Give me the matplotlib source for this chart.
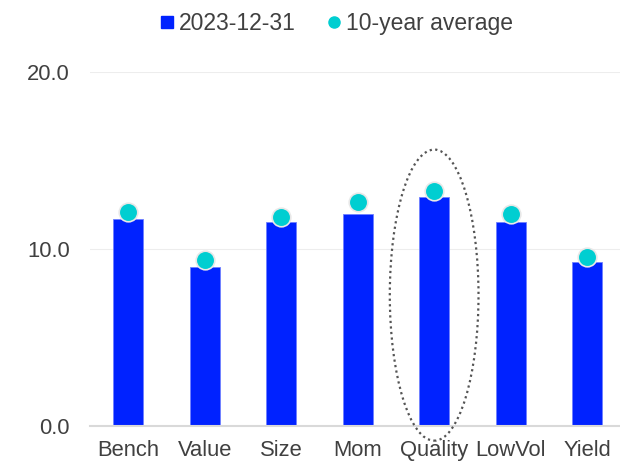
import matplotlib
matplotlib.use("Agg")
import matplotlib.pyplot as plt
from matplotlib.patches import Ellipse
from matplotlib.lines import Line2D

categories = ["Bench", "Value", "Size", "Mom", "Quality", "LowVol", "Yield"]
current = [11.69, 8.97, 11.56, 11.97, 12.95, 11.54, 9.30]
avg10 = [12.09, 9.36, 11.82, 12.69, 13.29, 11.97, 9.55]
yticks = [0, 10, 20]
ytick_labels = ["0.0", "10.0", "20.0"]

plt.rcParams['font.family'] = ['Liberation Sans', 'DejaVu Sans']
txt = "#404040"
bar_c = "#0022FF"
dot_c = "#00CED1"
fs = 15.8

fig = plt.figure(figsize=(6.2, 4.66), dpi=100)
ax = fig.add_axes([90/620, 1-426/466, (620-90)/620, (426-72.3)/466])

x = list(range(len(categories)))
ax.bar(x, current, width=0.39, color=bar_c, edgecolor="#6f80ff", linewidth=0.6, zorder=2)
ax.plot(x, avg10, linestyle="none", marker="o", markersize=13.4, markerfacecolor=dot_c,
        markeredgecolor="#e8e8e8", markeredgewidth=1.2, zorder=3)

ax.set_xlim(-0.5, 6.43)
ax.set_ylim(0, 20)
ax.set_yticks(yticks)
ax.set_yticklabels(ytick_labels)
ax.set_xticks(x)
ax.set_xticklabels(categories)
ax.tick_params(axis='both', length=0, labelsize=fs, colors=txt)
ax.tick_params(axis='y', pad=14.5)
ax.tick_params(axis='x', pad=10)
for s in ["top", "right", "left"]:
    ax.spines[s].set_visible(False)
ax.spines["bottom"].set_color("#d9d9d9")
ax.spines["bottom"].set_linewidth(1.5)
ax.set_axisbelow(True)
ax.yaxis.grid(True, color="#ededed", linewidth=0.8)

ell = Ellipse((4, 7.4), width=1.16, height=16.46, fill=False, edgecolor="#555555",
              linestyle=(0, (1, 1.5)), linewidth=1.6, clip_on=False, zorder=4)
ax.add_patch(ell)

handles = [Line2D([0], [0], marker="s", linestyle="none", markersize=8.6, markerfacecolor=bar_c,
                  markeredgecolor=bar_c),
           Line2D([0], [0], marker="o", linestyle="none", markersize=8.0, markerfacecolor=dot_c,
                  markeredgecolor=dot_c)]
fig.legend(handles, ["2023-12-31", "10-year average"], loc="center", bbox_to_anchor=(336.5/620, 1-23.5/466),
           ncol=2, frameon=False, fontsize=16.5, handletextpad=0.2, columnspacing=1.4,
           labelcolor=txt, handlelength=0.6, borderpad=0, borderaxespad=0)

fig.savefig("out.png", dpi=100)
